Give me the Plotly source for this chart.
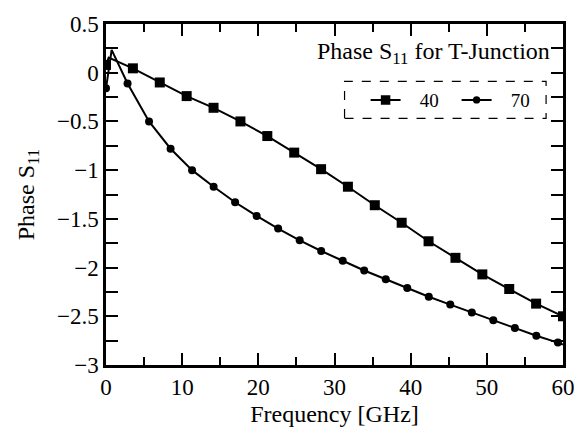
import plotly.graph_objects as go

# ---- data ----
freq_40 = [0.0, 0.35, 3.53, 7.06, 10.59, 14.12, 17.65, 21.18, 24.71, 28.24, 31.76,
           35.29, 38.82, 42.35, 45.88, 49.41, 52.94, 56.47, 60.0]
phase_40 = [0.08, 0.155, 0.045, -0.10, -0.24, -0.36, -0.50, -0.65, -0.82, -0.99, -1.17,
            -1.36, -1.54, -1.73, -1.90, -2.07, -2.22, -2.37, -2.50]
marker_40 = [True, False] + [True] * 17

freq_70 = [0.0, 0.74, 2.83, 5.65, 8.48, 11.30, 14.13, 16.95, 19.78, 22.60, 25.43,
           28.25, 31.08, 33.90, 36.73, 39.55, 42.38, 45.20, 48.03, 50.85, 53.68,
           56.50, 59.33, 60.0]
phase_70 = [-0.16, 0.235, -0.11, -0.50, -0.78, -1.00, -1.17, -1.33, -1.47, -1.60, -1.72,
            -1.83, -1.93, -2.03, -2.12, -2.21, -2.30, -2.38, -2.46, -2.54, -2.62,
            -2.70, -2.77, -2.79]
marker_70 = [True, False] + [True] * 21 + [False]

series_names = ["40", "70"]
legend_title = "Phase S<sub>11</sub> for T-Junction"
x_title = "Frequency [GHz]"
y_title = "Phase S<sub>11</sub>"

FONT = "Liberation Serif, serif"
PAD = "\u00a0\u00a0\u00a0"

fig = go.Figure()
fig.add_trace(go.Scatter(
    x=freq_40, y=phase_40, name=PAD + series_names[0], mode="lines+markers",
    line=dict(color="black", width=2),
    marker=dict(symbol="square", color="black", opacity=1,
                line=dict(width=0, color="black"),
                size=[10 if m else 0 for m in marker_40]),
))
fig.add_trace(go.Scatter(
    x=freq_70, y=phase_70, name=PAD + series_names[1], mode="lines+markers",
    line=dict(color="black", width=2),
    marker=dict(symbol="circle", color="black", opacity=1,
                line=dict(width=0, color="black"),
                size=[8 if m else 0 for m in marker_70]),
))

axis_common = dict(
    showline=True, linecolor="black", linewidth=2.5, mirror="allticks",
    ticks="inside", tickcolor="black", tickwidth=2,
    showgrid=False, zeroline=False,
    tickfont=dict(family=FONT, size=23, color="black"),
)

fig.update_xaxes(
    range=[0, 60], tick0=0, dtick=10, ticklen=12,
    minor=dict(dtick=5, ticks="inside", ticklen=8, tickcolor="black", tickwidth=2, showgrid=False),
    title=dict(text=x_title, font=dict(family=FONT, size=24, color="black"), standoff=6),
    **axis_common,
)
fig.update_yaxes(
    range=[-3, 0.5], tick0=0, dtick=0.5, ticklen=12,
    minor=dict(dtick=0.25, ticks="inside", ticklen=12, tickcolor="black", tickwidth=2, showgrid=False),
    title=dict(text=y_title, font=dict(family=FONT, size=24, color="black"), standoff=16),
    **axis_common,
)

fig.add_shape(type="rect", xref="paper", yref="paper",
              x0=0.522, x1=0.963, y0=0.723, y1=0.832,
              line=dict(color="black", width=1.2, dash="dash"),
              fillcolor="white", layer="below")
fig.add_annotation(text=legend_title, xref="paper", yref="paper",
                   x=0.977, y=0.914, xanchor="right", yanchor="middle",
                   showarrow=False, font=dict(family=FONT, size=24, color="black"))

fig.update_layout(
    width=587, height=435,
    margin=dict(l=106, r=18, t=16, b=70),
    paper_bgcolor="white", plot_bgcolor="white",
    showlegend=True,
    legend=dict(orientation="h", x=(369 - 106) / 463, y=0.777, xanchor="left", yanchor="middle",
                bgcolor="rgba(0,0,0,0)", borderwidth=0,
                font=dict(family=FONT, size=19, color="black"),
                entrywidth=46, entrywidthmode="pixels",
                itemwidth=30, tracegroupgap=0),
)

fig.write_html("out.html")
